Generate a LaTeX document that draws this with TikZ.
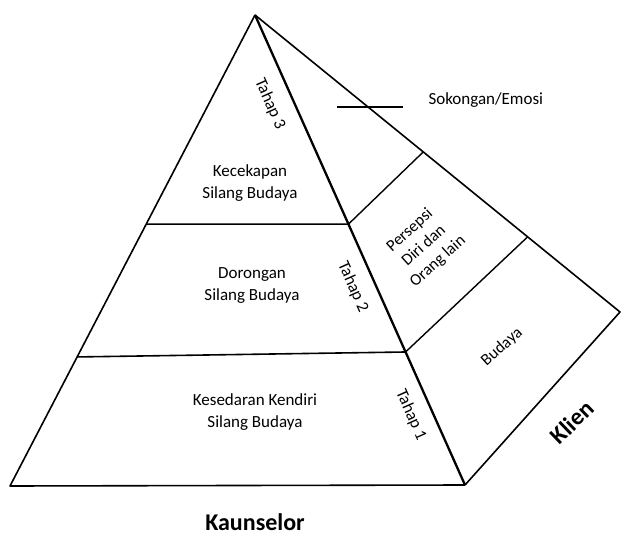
\documentclass[tikz,border=0pt]{standalone}
\usepackage{fontspec}
\setmainfont{Carlito}
\usetikzlibrary{calc}

\begin{document}
\begin{tikzpicture}[x=1pt,y=-1pt,
	lbl/.style={align=center,font=\fontsize{17}{22}\selectfont},
	tahap/.style={font=\fontsize{17}{20}\selectfont,rotate=-66},
	klien/.style={align=center,font=\fontsize{16.5}{21}\selectfont,rotate=42},
	big/.style={font=\bfseries\fontsize{24}{27}\selectfont,inner sep=0pt}]
			%%%%% START %%%%%
			\useasboundingbox (0,0) rectangle (622,535);
			
			\coordinate (apex) at (255,15);
			\coordinate (bl) at (10,486);
			\coordinate (br) at (465,485);
			\coordinate (back) at (620,312);
			
			% front face
			\draw[line width=1.6pt, line join=round] (apex) -- (bl) -- (br);
			\draw[line width=2.3pt] (apex) -- (br);
			
			% back face
			\draw[line width=1.6pt, line join=round] (apex) -- (back) -- (br);
			
			% layers front
			\draw[line width=1.6pt] ($(apex)!0.444!(bl)$) -- ($(apex)!0.445!(br)$);
			\draw[line width=1.6pt] ($(apex)!0.726!(bl)$) -- ($(apex)!0.717!(br)$);
			
			% layers back
			\draw[line width=1.4pt] ($(apex)!0.445!(br)$) -- ($(apex)!0.461!(back)$);
			\draw[line width=1.4pt] ($(apex)!0.717!(br)$) -- ($(apex)!0.747!(back)$);
			
			\draw[line width=1.6pt] (337,107) -- (403,107);
			\node[lbl, anchor=west] (sokongan) at (425,100) {Sokongan/Emosi};
			
			\node[lbl] (kecekapan) at (250,183) {Kecekapan\\Silang Budaya};
			\node[lbl] (dorongan) at (252,286) {Dorongan\\Silang Budaya};
			\node[lbl] (kesedaran) at (255,412) {Kesedaran Kendiri\\Silang Budaya};
			
			\node[tahap] (tahap3) at (270,104) {Tahap 3};
			\node[tahap] (tahap2) at (353,287) {Tahap 2};
			\node[tahap] (tahap1) at (411,415) {Tahap 1};
			
			\node[klien] (persepsi) at (424,246) {Persepsi\\Diri dan\\Orang lain};
			\node[klien] (budaya) at (502,347) {Budaya};
			
			\node[big, rotate=44] (klien) at (572,422) {Klien};
			\node[big, anchor=base] (kaunselor) at (255,530) {Kaunselor};
			%%%%% END %%%%%
\end{tikzpicture}
\end{document}
